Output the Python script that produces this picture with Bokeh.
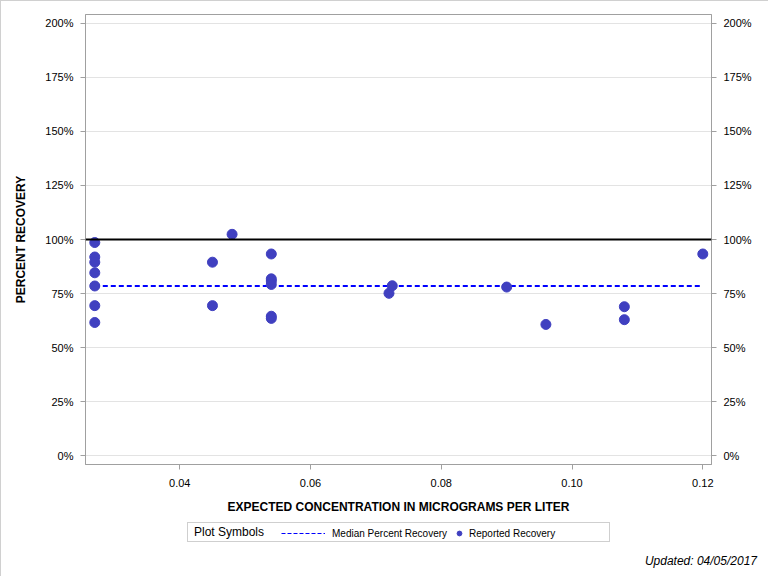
from bokeh.plotting import figure
from bokeh.layouts import column
from bokeh.models import (Legend, LegendItem, LinearAxis, Span, FixedTicker,
                          CustomJSTickFormatter, Range1d, Div)
from bokeh.embed import file_html
from bokeh.resources import INLINE

# expected concentration (ug/L) and reported recovery (%)
conc = [0.027, 0.027, 0.027, 0.027, 0.027, 0.027, 0.027,
        0.045, 0.045, 0.048,
        0.054, 0.054, 0.054, 0.054, 0.054, 0.054,
        0.072, 0.0725, 0.09, 0.096, 0.108, 0.108, 0.12]
recovery = [98.6, 91.9, 89.5, 84.6, 78.5, 69.4, 61.6,
            89.5, 69.4, 102.4,
            93.3, 81.8, 80.8, 79.2, 64.5, 63.5,
            75.1, 78.6, 78.0, 60.7, 68.9, 62.9, 93.3]
median_pct = 78.5
reference_pct = 100

x_ticks = [0.04, 0.06, 0.08, 0.10, 0.12]
y_ticks = [0, 25, 50, 75, 100, 125, 150, 175, 200]

FONT = "Liberation Sans"
GRAY = "#a0a0a0"
BLUE = "#0000ff"
DOT = "#4040c0"
W = 766

p = figure(width=W, height=515, output_backend="svg", toolbar_location=None,
           x_range=Range1d(0.02558, 0.12133), y_range=Range1d(-4.1, 204.1),
           min_border_left=84, min_border_right=56, min_border_top=13,
           min_border_bottom=47)

pct_fmt = CustomJSTickFormatter(code="return tick.toFixed(0) + '%';")
x_fmt = CustomJSTickFormatter(code="return tick.toFixed(2);")

p.xaxis.ticker = FixedTicker(ticks=x_ticks)
p.xaxis.formatter = x_fmt
p.yaxis.ticker = FixedTicker(ticks=y_ticks)
p.yaxis.formatter = pct_fmt
p.xaxis.axis_label = "EXPECTED CONCENTRATION IN MICROGRAMS PER LITER"
p.yaxis.axis_label = "PERCENT RECOVERY"

right_axis = LinearAxis(ticker=FixedTicker(ticks=y_ticks), formatter=pct_fmt)
p.add_layout(right_axis, "right")

for ax in [p.xaxis[0], p.yaxis[0], right_axis]:
    ax.axis_line_color = GRAY
    ax.major_tick_line_color = GRAY
    ax.minor_tick_line_color = None
    ax.major_tick_in = 0
    ax.major_tick_out = 5
    ax.major_label_text_font = FONT
    ax.major_label_text_font_size = "11px"
    ax.major_label_text_color = "#000000"
    ax.major_label_standoff = 7
    ax.axis_label_text_font = FONT
    ax.axis_label_text_font_size = "12px"
    ax.axis_label_text_font_style = "bold"
    ax.axis_label_text_color = "#000000"
p.xaxis.major_label_standoff = 9
p.xaxis.axis_label_standoff = 10
p.yaxis.axis_label_standoff = 14

p.xgrid.grid_line_color = None
p.ygrid.ticker = FixedTicker(ticks=y_ticks)
p.ygrid.grid_line_color = "#e3e3e3"
p.outline_line_color = GRAY
p.background_fill_color = "white"

# 100% reference line
p.add_layout(Span(location=reference_pct, dimension="width",
                  line_color="black", line_width=2))

p.line([min(conc), max(conc)], [median_pct, median_pct],
       line_color=BLUE, line_width=2, line_dash="5 3")
p.scatter(conc, recovery, size=10, fill_color=DOT, line_color=DOT)

# strip under the chart for the legend (its key glyphs fall outside the ranges)
foot = figure(width=W, height=26, output_backend="svg", toolbar_location=None,
              x_axis_type=None, y_axis_type=None,
              x_range=Range1d(0, 1), y_range=Range1d(0, 1),
              min_border=0, min_border_left=84, min_border_right=56,
              min_border_top=0, min_border_bottom=0)
foot.grid.visible = False
foot.outline_line_color = None

blank = foot.scatter(conc, recovery, fill_alpha=0, line_alpha=0)
med_key = foot.line([min(conc), max(conc)], [median_pct, median_pct],
                    line_color=BLUE, line_width=1, line_dash="4 2")
pts_key = foot.scatter(conc, recovery, size=7, fill_color=DOT, line_color=DOT)

common = dict(orientation="horizontal", padding=2, margin=0, glyph_height=14,
              label_height=14, label_text_font=FONT, label_text_color="#000000")

box = Legend(items=[LegendItem(label="Plot Symbols", renderers=[blank])],
             location=(102, 0), glyph_width=0, label_standoff=4,
             label_width=413, label_text_font_size="12px",
             border_line_color=GRAY, background_fill_alpha=1, **common)
key_med = Legend(items=[LegendItem(label="Median Percent Recovery", renderers=[med_key])],
                 location=(196, 2), glyph_width=44, label_standoff=7,
                 label_text_font_size="10px", border_line_color=None,
                 background_fill_alpha=0, **common)
key_pts = Legend(items=[LegendItem(label="Reported Recovery", renderers=[pts_key])],
                 location=(368, 2), glyph_width=12, label_standoff=4,
                 label_text_font_size="10px", border_line_color=None,
                 background_fill_alpha=0, **common)
for lg in [box, key_med, key_pts]:
    foot.add_layout(lg, "center")

note = Div(width=W, height=33,
           text="<div style=\"display:block;width:751px;text-align:right;"
                "padding-top:7px;font:italic 12px 'Liberation Sans';"
                "line-height:14px;color:#000\">Updated: 04/05/2017</div>")

page = column(p, foot, note, spacing=0, styles={"border": "1px solid #d0d0d0"})

open("out.html", "w").write(file_html(page, INLINE))
